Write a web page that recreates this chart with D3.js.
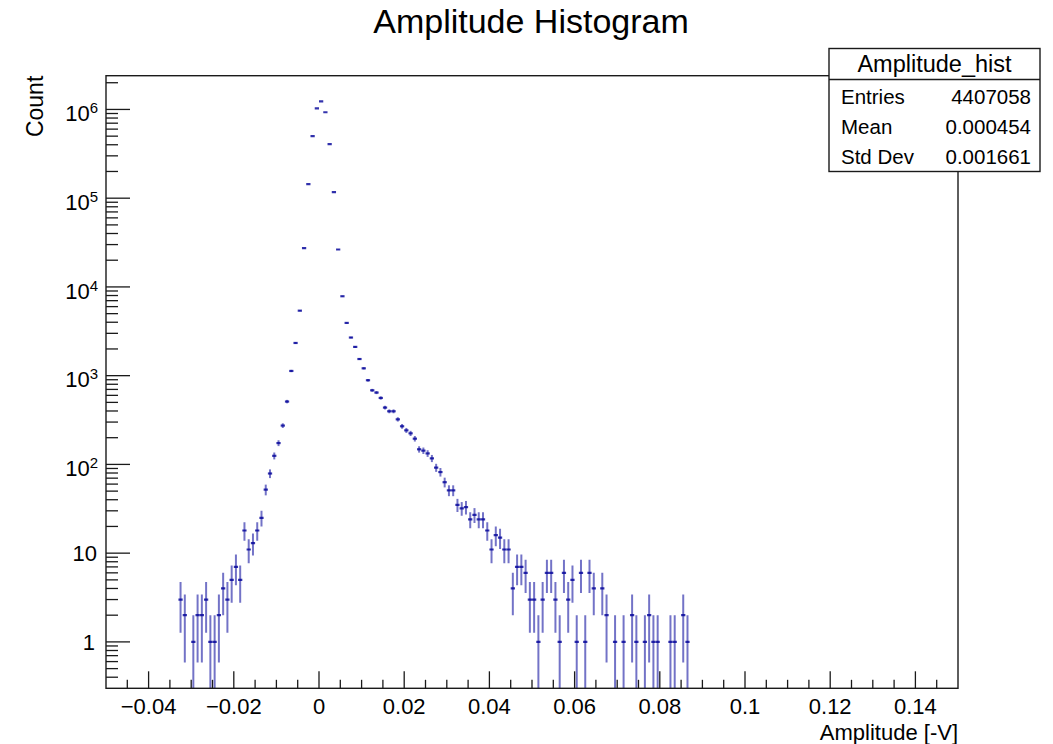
<!DOCTYPE html>
<html>
<head>
<meta charset="utf-8">
<script src="https://cdn.jsdelivr.net/npm/d3@7"></script>
<style>
  html, body { margin: 0; padding: 0; background: #fff; }
  svg { display: block; }
  text { font-family: "Liberation Sans", Arial, Helvetica, sans-serif; fill: #000; }
</style>
</head>
<body>
<svg id="chart" width="1053" height="744"></svg>
<script>
// Amplitude histogram: lower bin edges (bin width 0.001 V) and counts per bin
const binWidth = 0.001;
const binLow = [
  -0.033, -0.032, -0.031, -0.030, -0.029, -0.028, -0.027, -0.026, -0.025, -0.024,
  -0.023, -0.022, -0.021, -0.020, -0.019, -0.018, -0.017, -0.016, -0.015, -0.014,
  -0.013, -0.012, -0.011, -0.010, -0.009, -0.008, -0.007, -0.006, -0.005, -0.004,
  -0.003, -0.002, -0.001,
  0.000, 0.001, 0.002, 0.003, 0.004, 0.005, 0.006, 0.007, 0.008, 0.009,
  0.010, 0.011, 0.012, 0.013, 0.014, 0.015, 0.016, 0.017, 0.018, 0.019,
  0.020, 0.021, 0.022, 0.023, 0.024, 0.025, 0.026, 0.027, 0.028, 0.029,
  0.030, 0.031, 0.032, 0.033, 0.034, 0.035, 0.036, 0.037, 0.038, 0.039,
  0.040, 0.041, 0.042, 0.043, 0.044, 0.045, 0.046, 0.047, 0.048, 0.049,
  0.050, 0.051, 0.052, 0.053, 0.054, 0.055, 0.056, 0.057, 0.058, 0.059,
  0.060, 0.061, 0.062, 0.063, 0.064, 0.065, 0.066, 0.067, 0.068, 0.069,
  0.070, 0.071, 0.072, 0.073, 0.074, 0.075, 0.076, 0.077, 0.078, 0.079,
  0.080, 0.081, 0.082, 0.083, 0.084, 0.085, 0.086
];
const counts = [
  3, 2, 0, 1, 2, 2, 3, 1, 1, 2,
  4, 3, 5, 7, 5, 18, 11, 13, 18, 25,
  52, 79, 125, 174, 274, 511, 1130, 2336, 5400, 27300,
  144000, 500000, 1030000,
  1230000, 930000, 407000, 117000, 26400, 7850, 3930, 2690, 2110, 1540,
  1210, 888, 684, 645, 561, 437, 397, 397, 322, 269,
  242, 224, 195, 148, 143, 133, 117, 92, 82, 63,
  51, 51, 35, 32, 33, 24, 27, 24, 24, 18,
  11, 16, 15, 11, 11, 4, 7, 7, 6, 3,
  3, 1, 3, 6, 6, 3, 1, 6, 3, 5,
  1, 6, 1, 6, 4, 0, 4, 2, 0, 1,
  0, 1, 0, 2, 1, 0, 1, 2, 1, 1,
  0, 0, 1, 1, 0, 2, 1
];

// Axis ticks
const xMajorTicks = [-0.04, -0.02, 0, 0.02, 0.04, 0.06, 0.08, 0.1, 0.12, 0.14];
const xTickLabels = ["\u22120.04", "\u22120.02", "0", "0.02", "0.04", "0.06", "0.08", "0.1", "0.12", "0.14"];
const yMajorTicks = [1, 10, 100, 1000, 10000, 100000, 1000000];
const yTickExponents = ["0", "1", "2", "3", "4", "5", "6"];

// Statistics box
const statsTitle = "Amplitude_hist";
const statsLabels = ["Entries", "Mean", "Std Dev"];
const statsValues = ["4407058", "0.000454", "0.001661"];

const chartTitle = "Amplitude Histogram";
const xTitle = "Amplitude [-V]";
const yTitle = "Count";

// ---- layout ----
const frame = { left: 106, right: 958, top: 75.7, bottom: 688.3 };
const svg = d3.select("#chart");

const x = d3.scaleLinear().domain([-0.05, 0.15]).range([frame.left, frame.right]);
const y = d3.scaleLog().domain([0.3, 2.4e6]).range([frame.bottom, frame.top]);

const axisColor = "#1a1a1a";

// clip region for the data
svg.append("defs").append("clipPath").attr("id", "frameClip")
  .append("rect")
  .attr("x", frame.left).attr("y", frame.top)
  .attr("width", frame.right - frame.left)
  .attr("height", frame.bottom - frame.top);

// ---- histogram with error bars ----
const bins = binLow.map((lo, i) => ({ lo: lo, hi: lo + binWidth, n: counts[i] }))
  .filter(d => d.n > 0);

const histColor = "#000099";
const dataG = svg.append("g").attr("clip-path", "url(#frameClip)");

dataG.selectAll("line.err")
  .data(bins)
  .join("line")
  .attr("class", "err")
  .attr("x1", d => x((d.lo + d.hi) / 2))
  .attr("x2", d => x((d.lo + d.hi) / 2))
  .attr("y1", d => {
    const lowVal = d.n - Math.sqrt(d.n);
    return lowVal > 0 ? y(lowVal) : frame.bottom + 2;
  })
  .attr("y2", d => y(d.n + Math.sqrt(d.n)))
  .attr("stroke", histColor)
  .attr("stroke-opacity", 0.55)
  .attr("stroke-width", 2);

dataG.selectAll("line.binw")
  .data(bins)
  .join("line")
  .attr("class", "binw")
  .attr("x1", d => x(d.lo))
  .attr("x2", d => x(d.hi))
  .attr("y1", d => y(d.n))
  .attr("y2", d => y(d.n))
  .attr("stroke", histColor)
  .attr("stroke-opacity", 0.8)
  .attr("stroke-width", 2.2);

// ---- frame ----
svg.append("rect")
  .attr("x", frame.left).attr("y", frame.top)
  .attr("width", frame.right - frame.left)
  .attr("height", frame.bottom - frame.top)
  .attr("fill", "none")
  .attr("stroke", axisColor)
  .attr("stroke-width", 1.4);

// ---- x axis ticks ----
const xMinor = d3.range(-50, 151, 5).map(v => v / 1000)
  .filter(v => x(v) > frame.left + 1 && x(v) < frame.right - 1);
const xAxisG = svg.append("g");
xAxisG.selectAll("line.xminor")
  .data(xMinor)
  .join("line")
  .attr("x1", d => x(d)).attr("x2", d => x(d))
  .attr("y1", frame.bottom)
  .attr("y2", d => xMajorTicks.some(t => Math.abs(t - d) < 1e-9) ? frame.bottom - 17 : frame.bottom - 8.5)
  .attr("stroke", axisColor)
  .attr("stroke-width", 1.3);

xAxisG.selectAll("text.xlab")
  .data(xMajorTicks)
  .join("text")
  .attr("x", d => x(d))
  .attr("y", 714)
  .attr("text-anchor", "middle")
  .attr("font-size", 22)
  .text((d, i) => xTickLabels[i]);

// ---- y axis ticks (log) ----
const yMinor = [];
for (let e = -1; e <= 6; e++) {
  for (let m = 1; m <= 9; m++) {
    const v = m * Math.pow(10, e);
    if (v >= 0.3 && v <= 2.4e6) yMinor.push({ v: v, major: m === 1 });
  }
}
const yAxisG = svg.append("g");
yAxisG.selectAll("line.ytick")
  .data(yMinor.filter(d => y(d.v) > frame.top + 1 && y(d.v) < frame.bottom - 1))
  .join("line")
  .attr("x1", frame.left)
  .attr("x2", d => d.major ? frame.left + 24 : frame.left + 12)
  .attr("y1", d => y(d.v)).attr("y2", d => y(d.v))
  .attr("stroke", axisColor)
  .attr("stroke-width", 1.3);

yMajorTicks.forEach((v, i) => {
  const ty = y(v);
  const exp = yTickExponents[i];
  if (exp === "0" || exp === "1") {
    yAxisG.append("text")
      .attr("x", exp === "0" ? 95 : 97)
      .attr("y", ty + 7.7)
      .attr("text-anchor", "end")
      .attr("font-size", 22)
      .text(exp === "0" ? "1" : "10");
  } else {
    const t = yAxisG.append("text")
      .attr("x", 98)
      .attr("y", ty + 11.7)
      .attr("text-anchor", "end")
      .attr("font-size", 22);
    t.append("tspan").text("10");
    t.append("tspan")
      .attr("font-size", 15)
      .attr("dy", -8)
      .text(exp);
  }
});

// ---- titles ----
svg.append("text")
  .attr("x", 531).attr("y", 33)
  .attr("text-anchor", "middle")
  .attr("font-size", 34)
  .text(chartTitle);

svg.append("text")
  .attr("x", frame.right).attr("y", 740)
  .attr("text-anchor", "end")
  .attr("font-size", 22)
  .text(xTitle);

svg.append("text")
  .attr("transform", `translate(43, ${frame.top}) rotate(-90)`)
  .attr("text-anchor", "end")
  .attr("font-size", 23)
  .text(yTitle);

// ---- statistics box ----
const box = { x: 829, y: 48.5, w: 211, h: 123 };
const statsG = svg.append("g");
statsG.append("rect")
  .attr("x", box.x).attr("y", box.y)
  .attr("width", box.w).attr("height", box.h)
  .attr("fill", "#fff")
  .attr("stroke", axisColor)
  .attr("stroke-width", 1.4);
statsG.append("line")
  .attr("x1", box.x).attr("x2", box.x + box.w)
  .attr("y1", 79.5).attr("y2", 79.5)
  .attr("stroke", axisColor)
  .attr("stroke-width", 1.4);
statsG.append("text")
  .attr("x", box.x + box.w / 2).attr("y", 72)
  .attr("text-anchor", "middle")
  .attr("font-size", 23.5)
  .text(statsTitle);

const rowBaselines = [103.5, 134, 163.5];
statsLabels.forEach((lab, i) => {
  statsG.append("text")
    .attr("x", box.x + 12).attr("y", rowBaselines[i])
    .attr("font-size", 20.5)
    .text(lab);
  statsG.append("text")
    .attr("x", box.x + box.w - 9).attr("y", rowBaselines[i])
    .attr("text-anchor", "end")
    .attr("font-size", 20.5)
    .text(statsValues[i]);
});
</script>
</body>
</html>
